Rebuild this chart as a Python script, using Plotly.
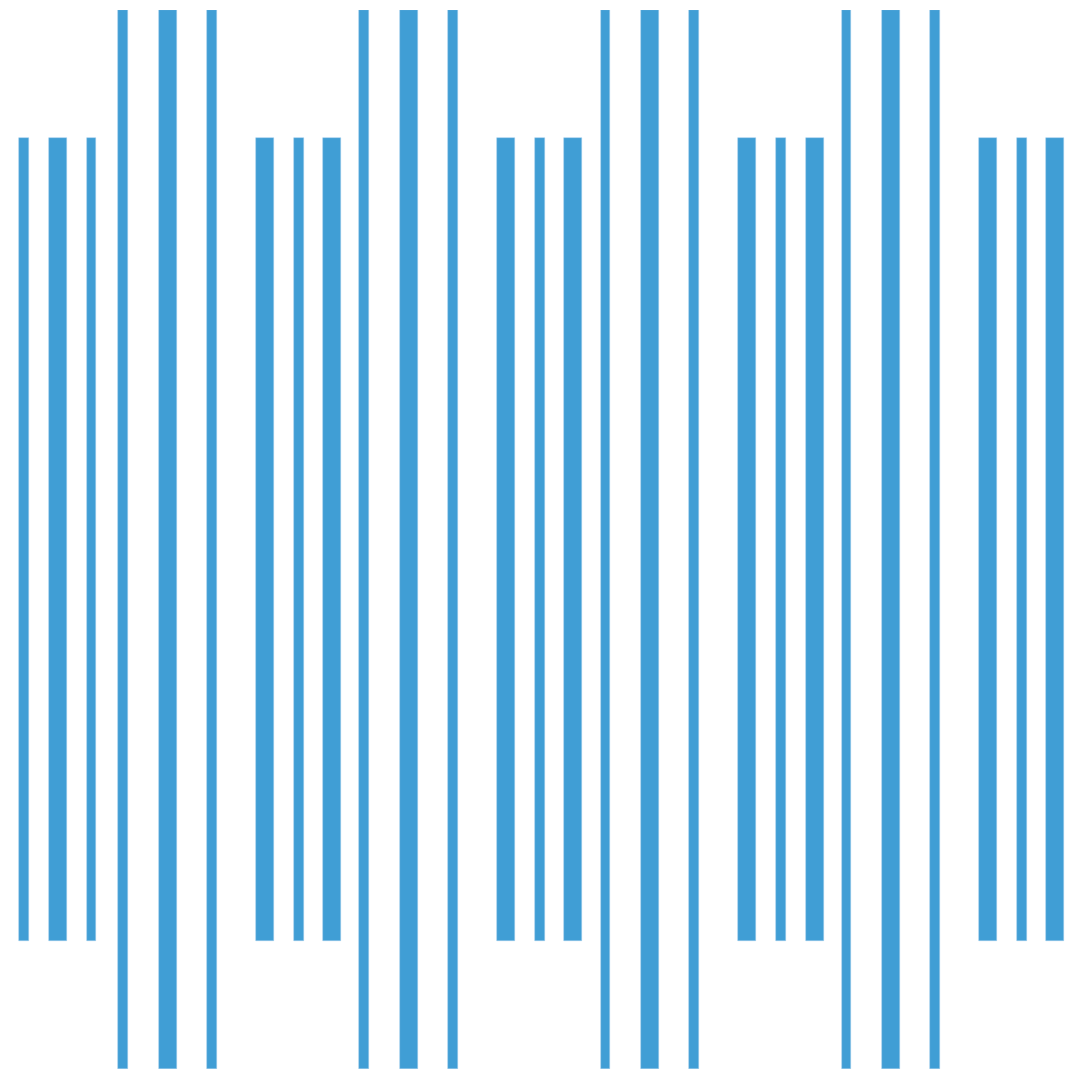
import plotly.graph_objects as go

# bar centres
x_pos = [2.43, 5.78, 9.15,
         12.33, 16.77, 21.18,
         26.52, 29.90, 33.23,
         36.40, 40.85, 45.28,
         50.63, 53.98, 57.33,
         60.55, 64.97, 69.38,
         74.73, 78.08, 81.45,
         84.65, 89.07, 93.48,
         98.83, 102.18, 105.53]

# half height of each bar (bars are centred on zero)
half_height = [0.758, 0.758, 0.758,
               1.0, 1.0, 1.0,
               0.758, 0.758, 0.758,
               1.0, 1.0, 1.0,
               0.758, 0.758, 0.758,
               1.0, 1.0, 1.0,
               0.758, 0.758, 0.758,
               1.0, 1.0, 1.0,
               0.758, 0.758, 0.758]

# bar widths in x units
bar_width = [0.98, 1.8, 0.98,
             0.98, 1.8, 0.98,
             1.8, 0.98, 1.8,
             0.98, 1.8, 0.98,
             1.8, 0.98, 1.8,
             0.98, 1.8, 0.98,
             1.8, 0.98, 1.8,
             0.98, 1.8, 0.98,
             1.8, 0.98, 1.8]

fig = go.Figure()
fig.add_trace(go.Bar(
    x=x_pos,
    y=[2 * h for h in half_height],
    base=[-h for h in half_height],
    width=bar_width,
    marker=dict(color="#409ed5", line=dict(color="rgba(160,205,235,0.8)", width=0.6)),
    hoverinfo="skip",
    showlegend=False,
))

# page body has an 8px margin, so the figure is 8px smaller than the window
fig.update_layout(
    width=1072, height=1072,
    margin=dict(l=0, r=0, t=2, b=11),
    paper_bgcolor="white", plot_bgcolor="white",
    bargap=0,
)
fig.update_xaxes(range=[0.8, 108], visible=False, showgrid=False, zeroline=False)
fig.update_yaxes(range=[-1, 1], visible=False, showgrid=False, zeroline=False)

fig.write_html("out.html")
